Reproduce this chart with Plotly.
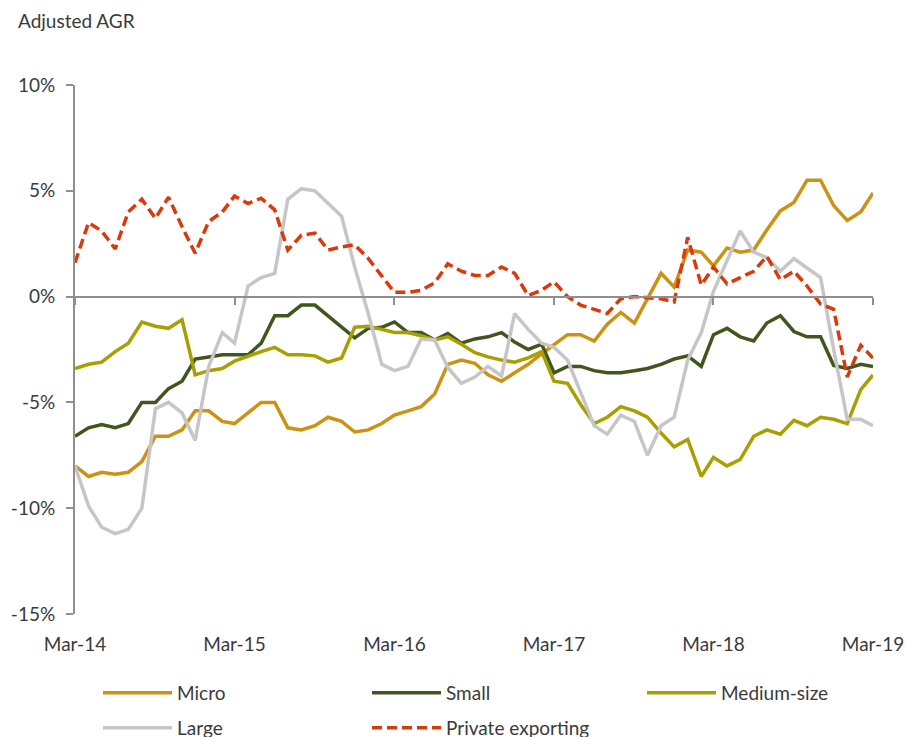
import pandas as pd
import plotly.graph_objects as go

dates = pd.date_range("2014-03-01", periods=61, freq="MS")

micro = [-8.0, -8.5, -8.3, -8.4, -8.3, -7.8, -6.6, -6.6, -6.3, -5.4, -5.4, -5.9, -6.0, -5.5, -5.0, -5.0,
         -6.2, -6.3, -6.1, -5.7, -5.9, -6.4, -6.3, -6.0, -5.6, -5.4, -5.2, -4.6, -3.2, -3.0, -3.15, -3.7,
         -4.0, -3.6, -3.2, -2.7, -2.25, -1.8, -1.8, -2.1, -1.3, -0.75, -1.25, -0.05, 1.1, 0.45, 2.2, 2.1,
         1.45, 2.3, 2.1, 2.2, 3.15, 4.05, 4.45, 5.5, 5.5, 4.3, 3.6, 4.0, 4.9]
small = [-6.6, -6.2, -6.05, -6.2, -6.0, -5.0, -5.0, -4.35, -4.0, -2.95, -2.85, -2.75, -2.75, -2.75, -2.2, -0.9,
         -0.9, -0.4, -0.4, -0.9, -1.4, -1.95, -1.5, -1.45, -1.2, -1.7, -1.7, -2.05, -1.75, -2.2, -2.0, -1.9,
         -1.7, -2.15, -2.5, -2.25, -3.6, -3.3, -3.3, -3.5, -3.6, -3.6, -3.5, -3.4, -3.2, -2.95, -2.8, -3.3,
         -1.8, -1.5, -1.9, -2.1, -1.25, -0.9, -1.65, -1.9, -1.9, -3.25, -3.4, -3.2, -3.3]
medium = [-3.4, -3.2, -3.1, -2.6, -2.2, -1.2, -1.4, -1.5, -1.1, -3.7, -3.5, -3.4, -3.05, -2.8, -2.6, -2.4,
          -2.75, -2.75, -2.8, -3.1, -2.9, -1.45, -1.4, -1.55, -1.7, -1.7, -1.85, -2.05, -1.9, -2.25, -2.65, -2.85,
          -3.0, -3.1, -2.9, -2.6, -4.0, -4.1, -5.1, -6.0, -5.7, -5.2, -5.4, -5.7, -6.45, -7.1, -6.75, -8.5,
          -7.6, -8.0, -7.7, -6.6, -6.3, -6.5, -5.85, -6.1, -5.7, -5.8, -6.0, -4.4, -3.7]
large = [-8.0, -9.9, -10.9, -11.2, -11.0, -10.0, -5.3, -5.0, -5.5, -6.8, -3.3, -1.7, -2.2, 0.5, 0.9, 1.1,
         4.6, 5.1, 5.0, 4.4, 3.8, 1.4, -0.8, -3.2, -3.5, -3.3, -2.0, -2.05, -3.35, -4.1, -3.8, -3.3,
         -3.75, -0.8, -1.55, -2.2, -2.4, -3.0, -4.5, -6.1, -6.5, -5.6, -5.9, -7.5, -6.1, -5.7, -3.0, -1.7,
         0.25, 1.75, 3.1, 2.1, 1.85, 1.2, 1.8, 1.35, 0.9, -2.5, -5.8, -5.8, -6.1]
private_exporting = [1.6, 3.5, 3.1, 2.25, 4.0, 4.6, 3.7, 4.7, 3.3, 2.05, 3.55, 4.0, 4.75, 4.4, 4.65, 4.1,
                     2.2, 2.9, 3.0, 2.2, 2.35, 2.45, 1.8, 1.0, 0.2, 0.2, 0.3, 0.65, 1.55, 1.2, 1.0, 1.0,
                     1.4, 1.1, 0.05, 0.3, 0.7, 0.0, -0.4, -0.6, -0.8, -0.1, 0.0, -0.05, -0.1, -0.25, 2.8, 0.55,
                     1.4, 0.6, 0.9, 1.2, 1.9, 0.8, 1.2, 0.5, -0.35, -0.6, -3.8, -2.3, -2.9]

tick_dates = pd.date_range("2014-03-01", periods=6, freq="12MS")
tick_labels = ["Mar-14", "Mar-15", "Mar-16", "Mar-17", "Mar-18", "Mar-19"]
y_ticks = [-15, -10, -5, 0, 5, 10]
y_labels = ["-15%", "-10%", "-5%", "0%", "5%", "10%"]

FONT = "Lato"
TXT = "#3a3a3a"
AX = "#8f8f8f"

W, H = 906, 737
ml, mr, mt, mb = 75, 33, 85, 123
ph = H - mt - mb
pw = W - ml - mr
zero_pos = (0 - (-15)) / 25.0

# name, values, colour, dash, legend id, legend left px, legend centre y px
series = [
    ("Micro", micro, "#CC9214", "solid", "legend", 98, 693),
    ("Small", small, "#41561F", "solid", "legend2", 367, 693),
    ("Medium-size", medium, "#A8A000", "solid", "legend3", 642, 693),
    ("Large", large, "#C6C6C6", "solid", "legend4", 98, 728),
    ("Private exporting", private_exporting, "#DA3A0B", "10px,5px", "legend5", 367, 728),
]

fig = go.Figure()
legends = {}
for name, vals, col, dash, lg, lx, ly in series:
    fig.add_trace(go.Scatter(x=dates, y=vals, name=name, mode="lines",
                             line=dict(color=col, width=3.5, dash=dash),
                             legend=lg, showlegend=True))
    legends[lg] = dict(orientation="h", xref="container", yref="container",
                       x=lx / W, y=1 - ly / H, xanchor="left", yanchor="middle",
                       font=dict(family=FONT, size=19, color=TXT),
                       itemwidth=69, bgcolor="rgba(0,0,0,0)", visible=True)

fig.update_layout(
    width=W, height=H,
    showlegend=True,
    margin=dict(l=ml, r=mr, t=mt, b=mb, autoexpand=False),
    paper_bgcolor="white", plot_bgcolor="white",
    font=dict(family=FONT, size=19, color=TXT),
    xaxis=dict(
        type="date", range=[dates[0], dates[-1]],
        tickvals=tick_dates, ticktext=tick_labels,
        anchor="free", position=zero_pos,
        showline=True, linecolor=AX, linewidth=2,
        ticks="outside", ticklen=7, tickwidth=2, tickcolor=AX,
        ticklabelstandoff=324,
        tickfont=dict(family=FONT, size=19, color=TXT),
        showgrid=False, zeroline=False,
    ),
    yaxis=dict(
        range=[-15, 10], tickvals=y_ticks, ticktext=y_labels,
        showline=True, linecolor=AX, linewidth=2,
        ticks="outside", ticklen=7, tickwidth=2, tickcolor=AX,
        ticklabelstandoff=7,
        tickfont=dict(family=FONT, size=19, color=TXT),
        showgrid=False, zeroline=False,
    ),
    annotations=[dict(text="Adjusted AGR", xref="paper", yref="paper",
                      x=-(ml - 16) / pw, y=1 + (mt - 21) / ph, xanchor="left", yanchor="middle",
                      showarrow=False, font=dict(family=FONT, size=19, color=TXT))],
)
fig.update_layout(**legends)

fig.write_html("out.html", config={"displayModeBar": False},
               post_script="document.body.style.margin='0px';document.body.style.overflow='hidden';")
